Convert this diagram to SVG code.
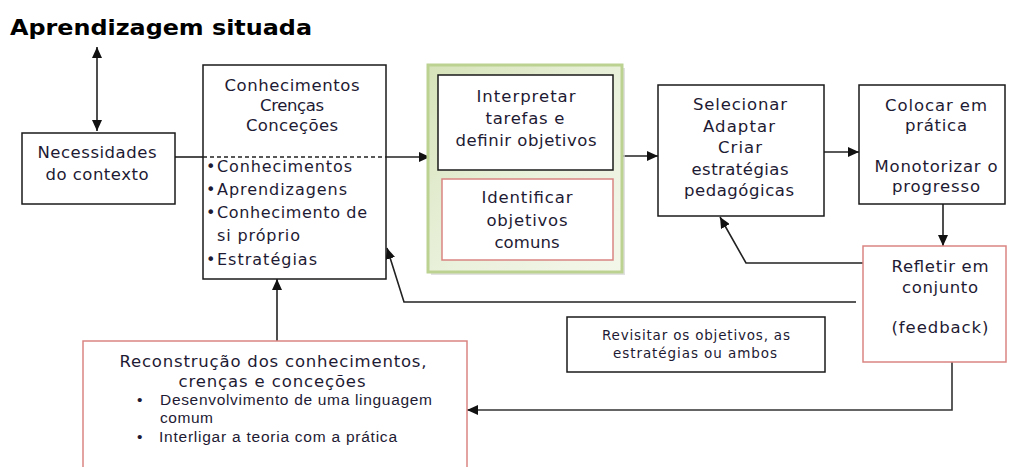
<svg xmlns="http://www.w3.org/2000/svg" width="1009" height="467" viewBox="0 0 1009 467">
<style>
  .box { fill: #ffffff; stroke: #1a1a1a; stroke-width: 1.5; }
  .rbox { fill: #ffffff; stroke: #d98582; stroke-width: 1.5; }
  .t { font-family: "DejaVu Sans", Verdana, sans-serif; font-size: 16.5px; fill: #1e1a33; text-anchor: middle; }
  .tl { font-family: "DejaVu Sans", Verdana, sans-serif; font-size: 16px; fill: #1e1a33; }
  .bul { font-family: "DejaVu Sans", Verdana, sans-serif; font-size: 16px; fill: #1e1a33; }
  .small { font-family: "DejaVu Sans", Verdana, sans-serif; font-size: 13.5px; fill: #1e1a33; text-anchor: middle; }
  .cal { font-family: "Liberation Sans", Arial, sans-serif; font-size: 15.5px; fill: #1e1a33; }
  .title { font-family: "DejaVu Sans", Verdana, sans-serif; font-size: 21px; font-weight: bold; fill: #000; }
  .con { fill: none; stroke: #222; stroke-width: 1.6; }
</style>
<defs>
  <marker id="ah" markerUnits="userSpaceOnUse" markerWidth="12" markerHeight="10" refX="11" refY="5" orient="auto-start-reverse">
    <path d="M0,0 L11,5 L0,10 z" fill="#111"/>
  </marker>
  <linearGradient id="gfill" x1="0" y1="0" x2="1" y2="1">
    <stop offset="0" stop-color="#d6e3b9"/>
    <stop offset="0.5" stop-color="#e9f0da"/>
    <stop offset="1" stop-color="#f3f7ea"/>
  </linearGradient>
</defs>
<rect width="1009" height="467" fill="#ffffff"/>

<text class="title" x="10" y="35" textLength="302" lengthAdjust="spacingAndGlyphs">Aprendizagem situada</text>

<g id="connectors">
  <line class="con" x1="97" y1="47" x2="97" y2="131" marker-start="url(#ah)" marker-end="url(#ah)"/>
  <line class="con" x1="175" y1="157" x2="203" y2="157"/>
  <line class="con" x1="386" y1="157" x2="430" y2="157" marker-end="url(#ah)"/>
  <line class="con" x1="622" y1="156" x2="658" y2="156" marker-end="url(#ah)"/>
  <line class="con" x1="824" y1="152" x2="859" y2="152" marker-end="url(#ah)"/>
  <line class="con" x1="943" y1="204" x2="943" y2="246" marker-end="url(#ah)"/>
  <polyline class="con" points="863,263 746,263 720,217" marker-end="url(#ah)"/>
  <polyline class="con" points="856,302 404,302 387,248" marker-end="url(#ah)"/>
  <line class="con" x1="277" y1="341" x2="277" y2="279" marker-end="url(#ah)"/>
  <polyline class="con" points="952,362 952,410 467,410" marker-end="url(#ah)" style="stroke:#333"/>
</g>

<g id="n-necessidades">
  <rect class="box" x="22" y="133" width="153" height="71"/>
  <text class="t" x="97" y="158" textLength="119">Necessidades</text>
  <text class="t" x="97" y="180" textLength="103">do contexto</text>
</g>

<g id="n-conhecimentos">
  <rect class="box" x="203" y="65" width="183" height="214"/>
  <text class="t" x="292" y="91" textLength="135">Conhecimentos</text>
  <text class="t" x="292" y="111" textLength="64">Crenças</text>
  <text class="t" x="292" y="131" textLength="92">Conceções</text>
  <line x1="203" y1="157" x2="386" y2="157" stroke="#222" stroke-width="1.3" stroke-dasharray="4,3"/>
  <text class="bul" x="206" y="172">•</text>
  <text class="tl" x="217" y="172" textLength="135">Conhecimentos</text>
  <text class="bul" x="206" y="195">•</text>
  <text class="tl" x="217" y="195" textLength="130">Aprendizagens</text>
  <text class="bul" x="206" y="218">•</text>
  <text class="tl" x="217" y="218" textLength="150">Conhecimento de</text>
  <text class="tl" x="217" y="241" textLength="83">si próprio</text>
  <text class="bul" x="206" y="265">•</text>
  <text class="tl" x="217" y="265" textLength="100">Estratégias</text>
</g>

<g id="n-objetivos">
  <rect x="431" y="68" width="194" height="207" fill="#d4d4d4" opacity="0.7"/>
  <rect x="428" y="65" width="194" height="207" fill="url(#gfill)" stroke="#bcd291" stroke-width="3"/>
  <g id="n-interpretar">
    <rect class="box" x="438" y="75" width="175" height="95"/>
    <text class="t" x="526" y="102" textLength="99">Interpretar</text>
    <text class="t" x="525" y="124" textLength="79">tarefas e</text>
    <text class="t" x="526" y="146" textLength="141">definir objetivos</text>
  </g>
  <g id="n-identificar">
    <rect class="rbox" x="442" y="179" width="171" height="81"/>
    <text class="t" x="527" y="203" textLength="91">Identificar</text>
    <text class="t" x="527" y="226" textLength="81">objetivos</text>
    <text class="t" x="527" y="248" textLength="65">comuns</text>
  </g>
</g>

<g id="n-selecionar">
  <rect class="box" x="658" y="85" width="166" height="131"/>
  <text class="t" x="740" y="110" textLength="94">Selecionar</text>
  <text class="t" x="739" y="131.5" textLength="72">Adaptar</text>
  <text class="t" x="740" y="153" textLength="44">Criar</text>
  <text class="t" x="740" y="174.5" textLength="97">estratégias</text>
  <text class="t" x="739" y="196" textLength="110">pedagógicas</text>
</g>

<g id="n-colocar">
  <rect class="box" x="859" y="85" width="146" height="119"/>
  <text class="t" x="936" y="111" textLength="102">Colocar em</text>
  <text class="t" x="936" y="131" textLength="62">prática</text>
  <text class="t" x="936" y="172" textLength="123">Monotorizar o</text>
  <text class="t" x="936" y="192" textLength="88">progresso</text>
</g>

<g id="n-refletir">
  <rect class="rbox" x="863" y="246" width="143" height="116"/>
  <text class="t" x="940" y="272" textLength="97">Refletir em</text>
  <text class="t" x="940" y="293" textLength="76">conjunto</text>
  <text class="t" x="940" y="333" textLength="97">(feedback)</text>
</g>

<g id="n-revisitar">
  <rect class="box" x="567" y="317" width="258" height="55"/>
  <text class="small" x="696" y="340" textLength="188">Revisitar os objetivos, as</text>
  <text class="small" x="695" y="358" textLength="164">estratégias ou ambos</text>
</g>

<g id="n-reconstrucao">
  <rect class="rbox" x="83" y="341" width="384" height="140"/>
  <text class="t" x="273" y="367" font-size="17" textLength="307">Reconstrução dos conhecimentos,</text>
  <text class="t" x="272" y="387" font-size="17" textLength="187">crenças e conceções</text>
  <text class="cal" x="137" y="405">•</text>
  <text class="cal" x="160" y="405" textLength="272">Desenvolvimento de uma linguagem</text>
  <text class="cal" x="160" y="423" textLength="53">comum</text>
  <text class="cal" x="137" y="442">•</text>
  <text class="cal" x="159" y="442" textLength="238">Interligar a teoria com a prática</text>
</g>
</svg>
